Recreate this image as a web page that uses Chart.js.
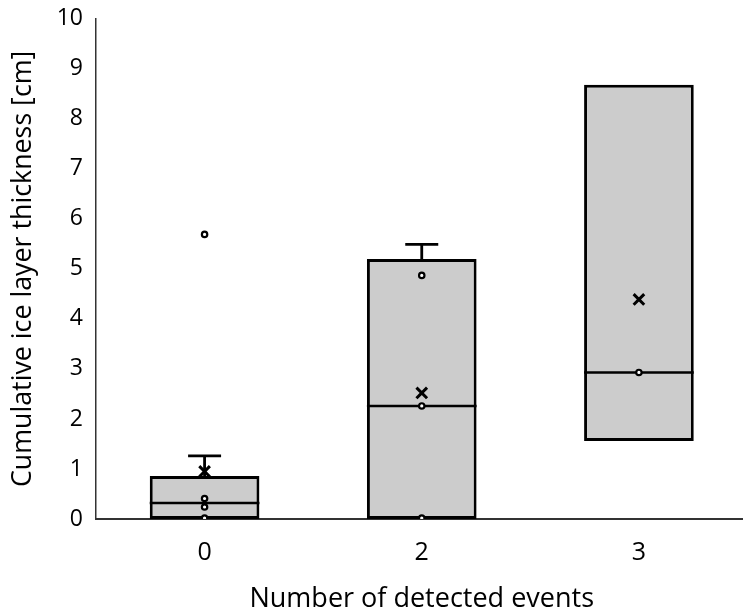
<!DOCTYPE html>
<html>
<head>
<meta charset="utf-8">
<script src="https://cdn.jsdelivr.net/npm/chart.js@4.4.1/dist/chart.umd.min.js"></script>
<style>
  html, body { margin: 0; padding: 0; background: #ffffff; overflow: hidden; }
  #wrap { width: 743px; height: 616px; position: relative; overflow: hidden; }
  #c { position: absolute; left: 0; top: 0; }
</style>
</head>
<body>
<div id="wrap"><canvas id="c" width="758" height="616"></canvas></div>
<script>
// ---- data ----
const categories = ['0', '2', '3'];
const q1 = [0, 0, 1.56];
const q3 = [0.86, 5.2, 8.68];
const medians = [0.32, 2.26, 2.93];
const whiskerTop = [1.26, 5.49, 8.68];
const means = [0.95, 2.52, 4.39];
const points0 = [5.69, 0.41, 0.24, 0.02];
const points2 = [4.87, 2.26, 0.02];
const points3 = [2.93];
const yTicks = [0, 1, 2, 3, 4, 5, 6, 7, 8, 9, 10];

const pointData = []
  .concat(points0.map(v => ({ x: categories[0], y: v })))
  .concat(points2.map(v => ({ x: categories[1], y: v })))
  .concat(points3.map(v => ({ x: categories[2], y: v })));
const meanData = means.map((v, i) => ({ x: categories[i], y: v }));

const FONT = '"Open Sans", Lato, sans-serif';

const boxExtras = {
  id: 'boxExtras',
  afterDatasetDraw(chart, args) {
    if (args.index !== 0) return;
    const ctx = chart.ctx;
    const y = chart.scales.y;
    const meta = chart.getDatasetMeta(0);
    ctx.save();
    ctx.strokeStyle = '#000000';
    meta.data.forEach((bar, i) => {
      const half = bar.width / 2;
      const ym = y.getPixelForValue(medians[i]);
      ctx.lineWidth = 2.5;
      ctx.beginPath();
      ctx.moveTo(bar.x - half, ym);
      ctx.lineTo(bar.x + half, ym);
      ctx.stroke();
      if (whiskerTop[i] > q3[i]) {
        const yt = y.getPixelForValue(q3[i]);
        const yw = y.getPixelForValue(whiskerTop[i]);
        ctx.lineWidth = 2.8;
        ctx.beginPath();
        ctx.moveTo(bar.x, yt);
        ctx.lineTo(bar.x, yw);
        ctx.moveTo(bar.x - 16.5, yw);
        ctx.lineTo(bar.x + 16.5, yw);
        ctx.stroke();
      }
    });
    ctx.restore();
  }
};

new Chart(document.getElementById('c'), {
  data: {
    labels: categories,
    datasets: [
      {
        type: 'bar',
        data: q1.map((v, i) => [v, q3[i]]),
        backgroundColor: '#cccccc',
        borderColor: '#000000',
        borderWidth: 3,
        borderSkipped: false,
        barPercentage: 0.505,
        categoryPercentage: 1.0,
        order: 3
      },
      {
        type: 'line',
        data: pointData,
        showLine: false,
        pointStyle: 'circle',
        pointRadius: 2.7,
        pointBorderWidth: 2.2,
        pointBackgroundColor: '#ffffff',
        pointBorderColor: '#000000',
        clip: 0,
        order: 1
      },
      {
        type: 'line',
        data: meanData,
        showLine: false,
        pointStyle: 'crossRot',
        pointRadius: 7.5,
        pointBorderWidth: 3,
        pointBorderColor: '#000000',
        order: 0
      }
    ]
  },
  options: {
    responsive: false,
    animation: false,
    devicePixelRatio: 1,
    layout: { padding: { top: 18, right: 0, left: 0, bottom: 0 } },
    plugins: { legend: { display: false }, tooltip: { enabled: false } },
    scales: {
      x: {
        type: 'category',
        grid: { display: false },
        border: { display: true, color: '#333333', width: 2 },
        ticks: { color: '#000000', font: { family: FONT, size: 25 }, padding: 11 },
        title: {
          display: true, text: 'Number of detected events', color: '#000000',
          font: { family: FONT, size: 27 }, padding: { top: 2, bottom: 0 }
        },
        afterFit(s) { s.height = 97; }
      },
      y: {
        min: 0, max: 10,
        grid: { display: false },
        border: { display: true, color: '#333333', width: 1.5 },
        afterBuildTicks(s) { s.ticks = yTicks.map(v => ({ value: v })); },
        ticks: { color: '#000000', font: { family: FONT, size: 23 }, padding: 5 },
        title: {
          display: true, text: 'Cumulative ice layer thickness [cm]', color: '#000000',
          font: { family: FONT, size: 26.8 }, padding: { top: 7, bottom: 0 }
        },
        afterFit(s) { s.width = 96; }
      }
    }
  },
  plugins: [boxExtras]
});
</script>
</body>
</html>
